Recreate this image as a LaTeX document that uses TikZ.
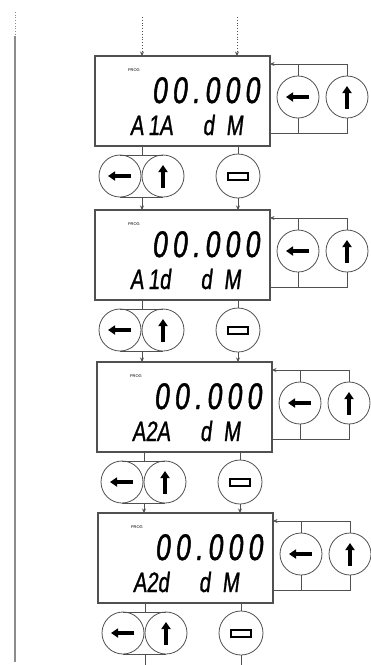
\documentclass[tikz,border=0pt]{standalone}
\usepackage{fontspec}
\usetikzlibrary{arrows.meta}
\newfontfamily\segfonta[FakeSlant=0.12,FakeStretch=0.72,FakeBold=1.2,LetterSpace=14]{Liberation Sans}
\newfontfamily\segfontb[FakeSlant=0.12,FakeStretch=0.72,FakeBold=1]{Liberation Sans}
\newfontfamily\progfont{Liberation Sans}
\newcommand\segdigits{\segfonta\fontsize{37}{37}\selectfont}
\newcommand\segwords{\segfontb\fontsize{28}{28}\selectfont}
\newcommand\progsize{\progfont\fontsize{4}{4}\selectfont}
\definecolor{ln}{HTML}{505050}
\begin{document}
\begin{tikzpicture}[x=1pt,y=-1pt,
  line/.style={draw=ln, line width=0.8pt},
  conn/.style={line, -{Stealth[length=4.5pt,width=4pt]}},
  panel/.style={draw=ln, line width=1.1pt, minimum width=175pt, minimum height=90pt, inner sep=0pt, outer sep=0pt, anchor=north west},
  btn/.style={circle, draw=ln, line width=0.8pt, minimum size=42pt, inner sep=0pt, outer sep=0pt},
  bigarrow/.style={draw=black, line width=3.2pt, -{Triangle[length=7pt,width=9pt]}},
  btnleft/.style={btn, path picture={\draw[bigarrow] ([xshift=11pt]path picture bounding box.center) -- ([xshift=-12pt]path picture bounding box.center);}},
  btnup/.style={btn, path picture={\draw[bigarrow] ([yshift=-12pt]path picture bounding box.center) -- ([yshift=11pt]path picture bounding box.center);}},
  btnrect/.style={btn, minimum size=44pt, path picture={\draw[draw=black, line width=2pt] ([shift={(-10pt,-3.5pt)}]path picture bounding box.center) rectangle ([shift={(10pt,3.5pt)}]path picture bounding box.center);}},
  segtext/.style={inner sep=0pt, outer sep=0pt},
]
\useasboundingbox (0,0) rectangle (371,665);

% left margin line
\coordinate (ltop) at (15,12);
\coordinate (lmid) at (15,36);
\coordinate (lbot) at (15,662);
\draw[draw=black!45, line width=0.7pt, dotted] (ltop) -- (lmid);
\draw[draw=black!45, line width=1.5pt] (lmid) -- (lbot);

\foreach \i/\t/\dx in {1/56/0, 2/210/0, 3/362/2, 4/513/3} {
  \node[panel] (P\i) at (95+\dx,\t) {};
  \node[segtext, anchor=west, font=\progsize] (prog\i) at (128+\dx,\t+14) {PROG};
  \node[segtext, anchor=base west, font=\segdigits] (val\i) at (152+\dx,\t+47) {00.000};
  % right loop
  \node[btnleft] (RL\i) at (298+\dx,\t+41) {};
  \node[btnup] (RU\i) at (347+\dx,\t+41) {};
  \coordinate (in\i) at ([yshift=-8pt]P\i.north east);
  \coordinate (out\i) at ([yshift=13pt]P\i.south east);
  \draw[conn] (RU\i.north) |- (in\i);
  \draw[line] (RL\i.north) -- (RL\i.north |- in\i);
  \draw[line] (RU\i.south) |- (out\i);
  \draw[line] (RL\i.south) -- (RL\i.south |- out\i);
  % buttons below
  \node[btnleft] (LA\i) at (120+\dx,\t+120) {};
  \node[btnup] (UA\i) at (163+\dx,\t+120) {};
  \node[btnrect] (RB\i) at (238+\dx,\t+120) {};
  \coordinate (jt\i) at (142+\dx,\t+99);
  \coordinate (jb\i) at (142+\dx,\t+141);
  \draw[line] (LA\i.north) -- (UA\i.north);
  \draw[line] (LA\i.south) -- (UA\i.south);
  \draw[line] (jt\i |- P\i.south) -- (jt\i);
  \draw[line] (RB\i.north |- P\i.south) -- (RB\i.north);
}
\node[segtext, anchor=base west, font=\segwords] (w1) at (130,135) {A\,1A\hspace{30pt}d\hspace{12pt}M};
\node[segtext, anchor=base west, font=\segwords] (w2) at (130,289) {A\,1d\hspace{30pt}d\hspace{12pt}M};
\node[segtext, anchor=base west, font=\segwords] (w3) at (132,441) {A2A\hspace{30pt}d\hspace{12pt}M};
\node[segtext, anchor=base west, font=\segwords] (w4) at (133,592) {A2d\hspace{30pt}d\hspace{12pt}M};

% connections between stages
\foreach \i/\j in {1/2, 2/3, 3/4} {
  \draw[conn] (jb\i) -- (jb\i |- P\j.north);
  \draw[conn] (RB\i.south) -- (RB\i.south |- P\j.north);
}
% top entry
\coordinate (s1) at (142,17);
\coordinate (s2) at (237,17);
\draw[conn, dotted] (s1) -- (s1 |- P1.north);
\draw[conn, dotted] (s2) -- (s2 |- P1.north);
% bottom exits
\draw[line] (jb4) -- (145,665);
\draw[line] (RB4.south) -- (241,665);
\end{tikzpicture}
\end{document}
